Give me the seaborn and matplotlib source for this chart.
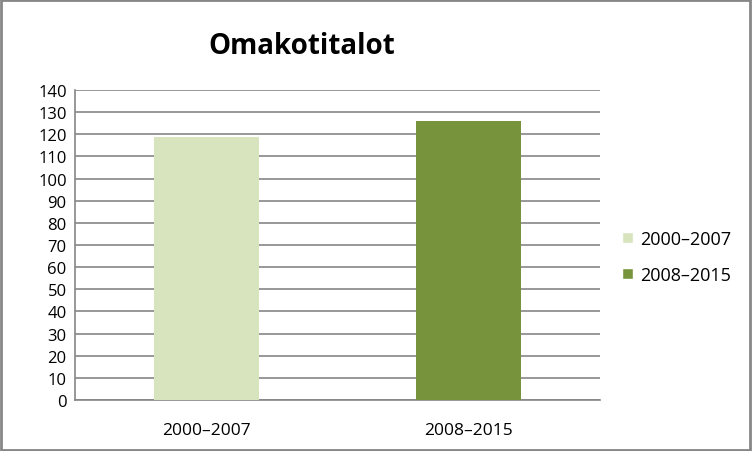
import pandas as pd
import seaborn as sns
import matplotlib.pyplot as plt
from matplotlib.patches import Patch, Rectangle

# data
periods = ['2000–2007', '2008–2015']
values = [119, 126]
colors = ['#d7e4bd', '#77933c']

data = pd.DataFrame({'period': periods, 'value': values})

sns.set_style('white')
plt.rcParams['font.family'] = ['Open Sans', 'DejaVu Sans']
plt.rcParams['text.color'] = 'black'
plt.rcParams['xtick.color'] = 'black'
plt.rcParams['ytick.color'] = 'black'

fig = plt.figure(figsize=(7.52, 4.52), dpi=100)
ax = fig.add_axes([75 / 752, 51 / 452, 525 / 752, 310 / 452])

sns.barplot(data=data, x='period', y='value', hue='period', palette=colors,
            saturation=1, dodge=False, width=0.4, legend=False, ax=ax,
            linewidth=0, zorder=3)

ax.set_ylim(0, 140)
ax.set_yticks(range(0, 141, 10))
ax.set_xlim(-0.5, 1.5)
ax.grid(axis='y', color='#868686', linewidth=1.2, zorder=0)
ax.set_xlabel('')
ax.set_ylabel('')
for s in ['top', 'right']:
    ax.spines[s].set_visible(False)
for s in ['left', 'bottom']:
    ax.spines[s].set_color('#868686')
    ax.spines[s].set_linewidth(1.2)
ax.tick_params(axis='y', labelsize=12, length=4, color='#868686', labelcolor='black', pad=2)
ax.tick_params(axis='x', labelsize=12.5, length=0, labelcolor='black', pad=16)

fig.text(302 / 752, 1 - 47 / 452, 'Omakotitalot', fontsize=20, fontweight='bold',
         ha='center', va='center')

handles = [Patch(facecolor=c, label=p) for p, c in zip(periods, colors)]
fig.legend(handles=handles, loc='center left', bbox_to_anchor=(606 / 752, 1 - 258 / 452),
           frameon=False, fontsize=13, handlelength=0.6, handleheight=0.6,
           labelspacing=1.0, handletextpad=0.4)

fig.patches.append(Rectangle((0.001, 0.002), 0.997, 0.996, transform=fig.transFigure,
                             fill=False, edgecolor='#868686', linewidth=2))

plt.savefig('out.png', dpi=100)
